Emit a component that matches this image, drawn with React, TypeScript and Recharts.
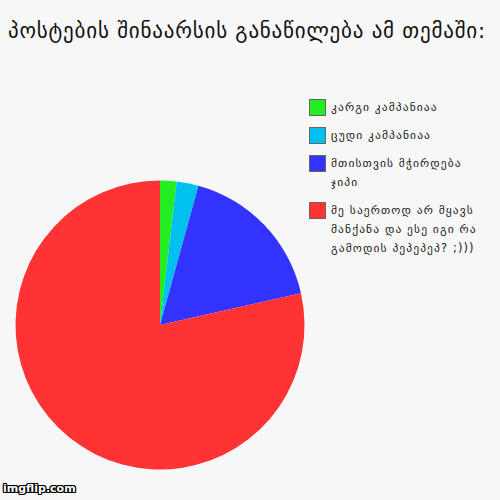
import React from "react";
import { PieChart, Pie, Cell, Legend } from "recharts";

const categories = [
  "კარგი კამპანიაა",
  "ცუდი კამპანიაა",
  "მთისთვის მჭირდება ჯიპი",
  "მე საერთოდ არ მყავს მანქანა და ესე იგი რა გამოდის პეპეპეპ? ;)))",
];
const values = [3, 4, 28, 128];
const colors = ["#22EE22", "#00C0F0", "#3333FF", "#FF3333"];
const title = "პოსტების შინაარსის განაწილება ამ თემაში:";

const data = categories.map((name, i) => ({ name, value: values[i] }));

const FONT = "'DejaVu Sans', sans-serif";

const renderLegend = (props: any) => {
  const payload = props.payload || [];
  const ordered = categories
    .map((c) => payload.find((p: any) => p.value === c))
    .filter(Boolean);
  return (
    <div style={{ fontFamily: FONT }}>
      {ordered.map((p: any, i: number) => (
        <div key={i} style={{ display: "flex", alignItems: "flex-start", marginBottom: 10 }}>
          <div
            style={{
              width: 15,
              height: 15,
              background: p.color,
              border: "1px solid #666",
              flexShrink: 0,
              marginRight: 5,
            }}
          />
          <div
            style={{
              fontSize: 11.5,
              lineHeight: "19px",
              color: "#222",
              width: 160,
              marginTop: -1,
              letterSpacing: 1.1,
            }}
          >
            {p.value}
          </div>
        </div>
      ))}
    </div>
  );
};

export default function App() {
  return (
    <div
      style={{
        position: "absolute",
        left: 0,
        top: 0,
        width: 500,
        height: 500,
        background: "#F7F7F7",
        overflow: "hidden",
      }}
    >
      <div
        style={{
          position: "absolute",
          left: 8,
          top: 19,
          fontFamily: FONT,
          fontSize: 21,
          color: "#111",
          whiteSpace: "nowrap",
          letterSpacing: 0.8,
        }}
      >
        {title}
      </div>
      <PieChart
        width={500}
        height={500}
        margin={{ top: 0, right: 0, bottom: 0, left: 0 }}
        style={{ position: "absolute", left: 0, top: 0 }}
      >
        <Pie
          data={data}
          dataKey="value"
          nameKey="name"
          cx={160}
          cy={325}
          outerRadius={144.5}
          startAngle={90}
          endAngle={-270}
          stroke="none"
          isAnimationActive={false}
        >
          {data.map((d, i) => (
            <Cell key={d.name} fill={colors[i]} />
          ))}
        </Pie>
        <Legend
          layout="vertical"
          align="right"
          verticalAlign="top"
          content={renderLegend}
          wrapperStyle={{ position: "absolute", left: 309, top: 99, width: 190 }}
        />
      </PieChart>
      <div
        style={{
          position: "absolute",
          left: 3,
          top: 482,
          fontFamily: "'DejaVu Sans', sans-serif",
          fontWeight: "bold",
          fontSize: 11,
          color: "#fff",
          textShadow:
            "1px 0 #000, -1px 0 #000, 0 1px #000, 0 -1px #000, 1px 1px #000, -1px -1px #000, 1px -1px #000, -1px 1px #000",
        }}
      >
        imgflip.com
      </div>
    </div>
  );
}
